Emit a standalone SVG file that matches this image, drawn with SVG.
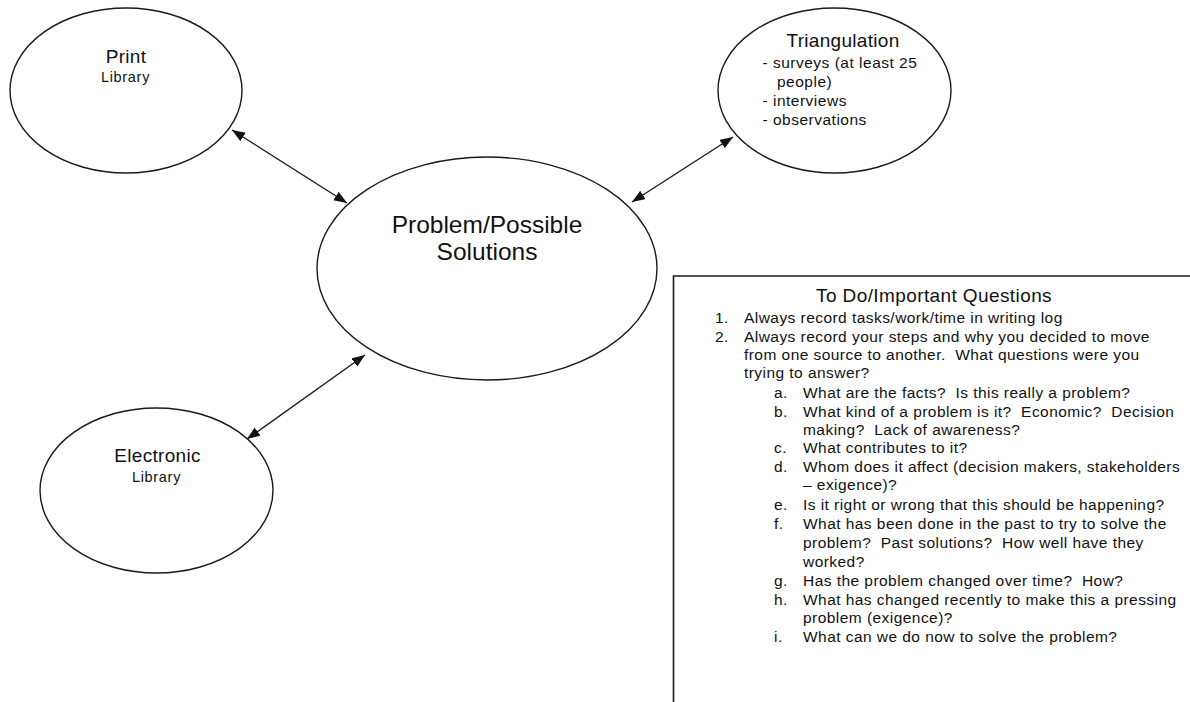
<svg xmlns="http://www.w3.org/2000/svg" width="1190" height="702" viewBox="0 0 1190 702">
<style>
.node { fill: #fff; stroke: #1a1a1a; stroke-width: 1.4; }
.t { font-family: "Liberation Sans", Arial, sans-serif; fill: #111; white-space: pre; }
.big { font-size: 19px; letter-spacing: 0.3px; text-anchor: middle; }
.lib { font-size: 14.5px; letter-spacing: 0.7px; text-anchor: middle; }
.center { font-size: 24.5px; text-anchor: middle; }
.small { font-size: 15.5px; letter-spacing: 0.5px; }
.body { font-size: 15.5px; letter-spacing: 0.45px; }
.title { font-size: 19px; letter-spacing: 0.4px; text-anchor: middle; }
.conn { stroke: #1a1a1a; stroke-width: 1.4; fill: none; marker-start: url(#ah); marker-end: url(#ah); }
</style>
<defs>
<marker id="ah" markerUnits="userSpaceOnUse" markerWidth="14" markerHeight="12" refX="13" refY="5" orient="auto-start-reverse">
<path d="M0,0 L13,5 L0,10 z" fill="#111"/>
</marker>
</defs>
<rect width="1190" height="702" fill="#fff"/>

<g id="connectors">
<line class="conn" x1="232" y1="130" x2="347" y2="203"/>
<line class="conn" x1="733" y1="137" x2="632" y2="202"/>
<line class="conn" x1="365" y1="355" x2="247" y2="439"/>
</g>

<g id="print">
<ellipse class="node" cx="126" cy="90.5" rx="116" ry="82.5"/>
<text class="t big" x="126" y="62.5">Print</text>
<text class="t lib" x="125.5" y="81.5">Library</text>
</g>

<g id="triangulation">
<ellipse class="node" cx="834.5" cy="90.5" rx="116.5" ry="82.5"/>
<text class="t big" x="843" y="47">Triangulation</text>
<text class="t small" x="762.5" y="68.3">- surveys (at least 25</text>
<text class="t small" x="777" y="87.3">people)</text>
<text class="t small" x="762.5" y="106">- interviews</text>
<text class="t small" x="762.5" y="124.5">- observations</text>
</g>

<g id="problem">
<ellipse class="node" cx="487" cy="268.5" rx="170" ry="111.5"/>
<text class="t center" x="487" y="233">Problem/Possible</text>
<text class="t center" x="487" y="260">Solutions</text>
</g>

<g id="electronic">
<ellipse class="node" cx="156.5" cy="490.5" rx="116.5" ry="82.5"/>
<text class="t big" x="157.5" y="461.7">Electronic</text>
<text class="t lib" x="156.5" y="481.7">Library</text>
</g>

<g id="todo">
<path d="M673.5,702 L673.5,276 L1190,276" fill="#fff" stroke="#1a1a1a" stroke-width="1.6"/>
<text class="t title" x="934" y="301.7">To Do/Important Questions</text>
<text class="t body" x="715" y="322.7">1.</text>
<text class="t body" x="744" y="322.7">Always record tasks/work/time in writing log</text>
<text class="t body" x="715" y="341.7">2.</text>
<text class="t body" x="744" y="341.7">Always record your steps and why you decided to move</text>
<text class="t body" x="744" y="360">from one source to another.  What questions were you</text>
<text class="t body" x="744" y="378">trying to answer?</text>
<text class="t body" x="774" y="398">a.</text>
<text class="t body" x="803" y="398">What are the facts?  Is this really a problem?</text>
<text class="t body" x="774" y="416.7">b.</text>
<text class="t body" x="803" y="416.7">What kind of a problem is it?  Economic?  Decision</text>
<text class="t body" x="803" y="435">making?  Lack of awareness?</text>
<text class="t body" x="774" y="453">c.</text>
<text class="t body" x="803" y="453">What contributes to it?</text>
<text class="t body" x="774" y="471.7">d.</text>
<text class="t body" x="803" y="471.7">Whom does it affect (decision makers, stakeholders</text>
<text class="t body" x="803" y="490">– exigence)?</text>
<text class="t body" x="774" y="510">e.</text>
<text class="t body" x="803" y="510">Is it right or wrong that this should be happening?</text>
<text class="t body" x="774" y="529.3">f.</text>
<text class="t body" x="803" y="529.3">What has been done in the past to try to solve the</text>
<text class="t body" x="803" y="548.3">problem?  Past solutions?  How well have they</text>
<text class="t body" x="803" y="566.7">worked?</text>
<text class="t body" x="774" y="586">g.</text>
<text class="t body" x="803" y="586">Has the problem changed over time?  How?</text>
<text class="t body" x="774" y="605">h.</text>
<text class="t body" x="803" y="605">What has changed recently to make this a pressing</text>
<text class="t body" x="803" y="623.3">problem (exigence)?</text>
<text class="t body" x="774" y="641.7">i.</text>
<text class="t body" x="803" y="641.7">What can we do now to solve the problem?</text>
</g>
</svg>
